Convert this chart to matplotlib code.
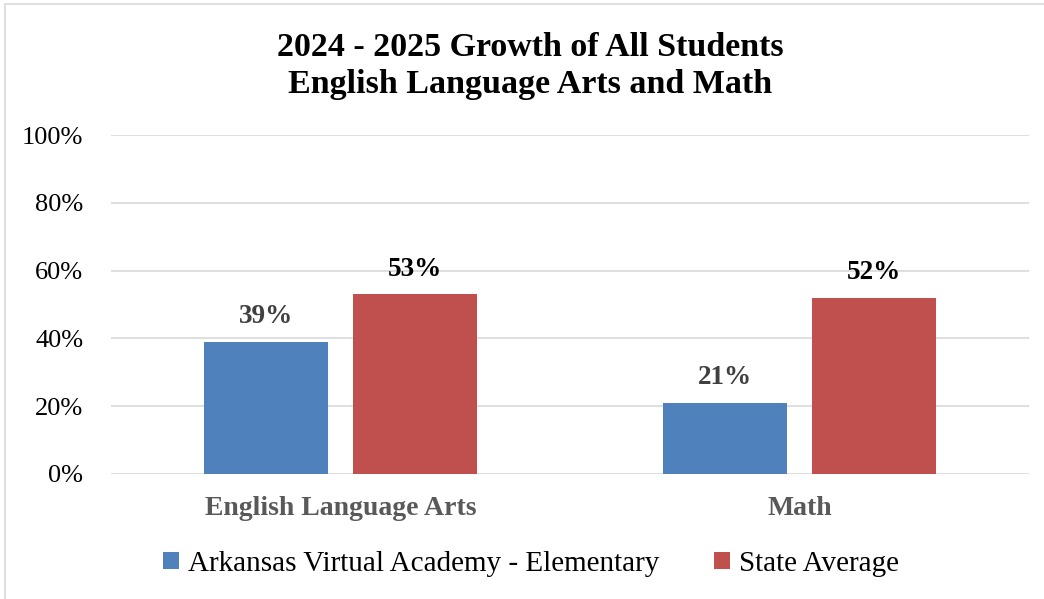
import matplotlib.pyplot as plt
import numpy as np
from matplotlib.patches import Rectangle

categories = ['English Language Arts', 'Math']
school = [39, 21]
state = [53, 52]
series_names = ['Arkansas Virtual Academy - Elementary', 'State Average']
yticks = [0, 20, 40, 60, 80, 100]

BLUE = '#4F81BD'
RED = '#C0504D'
GRID = '#D9D9D9'

plt.rcParams['font.family'] = ['Liberation Serif', 'DejaVu Serif']

fig = plt.figure(figsize=(10.44, 5.99), dpi=100)
W, H = 1044, 599

# light frame around the chart area
fig.patches.append(Rectangle((5 / W, -0.1), 1.2, (599 - 4) / H + 0.1,
                             transform=fig.transFigure, fill=False,
                             edgecolor=GRID, linewidth=1.2))

ax = fig.add_axes([111 / W, (599 - 474) / H, (1029 - 111) / W, (474 - 135) / H])

x = np.arange(len(categories))
width = 0.27
gap = 0.0545
b1 = ax.bar(x - (width + gap) / 2, school, width, color=BLUE, label=series_names[0], zorder=3)
b2 = ax.bar(x + (width + gap) / 2, state, width, color=RED, label=series_names[1], zorder=3)

for rect, v in zip(b1, school):
    ax.text(rect.get_x() + rect.get_width() / 2, v + 5.5, f'{v}%', ha='center', va='baseline',
            fontsize=19.5, fontweight='bold', color='#404040')
for rect, v in zip(b2, state):
    ax.text(rect.get_x() + rect.get_width() / 2, v + 5.5, f'{v}%', ha='center', va='baseline',
            fontsize=19.5, fontweight='bold', color='black')

ax.set_xlim(-0.5, 1.5)
ax.set_ylim(0, 100)
ax.set_yticks(yticks)
ax.set_yticklabels([f'{t}%' for t in yticks], fontsize=19)
ax.set_xticks(x)
ax.set_xticklabels(categories, fontsize=20, fontweight='bold', color='#595959')
ax.tick_params(axis='y', length=0, pad=20)
ax.tick_params(axis='x', length=0, pad=16)
ax.yaxis.grid(True, color=GRID, linewidth=1.2, zorder=0)
for s in ax.spines.values():
    s.set_visible(False)

fig.text(530 / W, 1 - 47 / H, '2024 - 2025 Growth of All Students', ha='center', va='center',
         fontsize=24.5, fontweight='bold')
fig.text(530 / W, 1 - 84 / H, 'English Language Arts and Math', ha='center', va='center',
         fontsize=24.5, fontweight='bold')

fig.legend(handles=[b1, b2], loc='center', bbox_to_anchor=(531 / W, 1 - 564 / H), ncol=2,
           frameon=False, fontsize=21, handlelength=0.55, handleheight=0.55,
           handletextpad=0.3, columnspacing=1.9)

fig.savefig('out.png', dpi=100)
